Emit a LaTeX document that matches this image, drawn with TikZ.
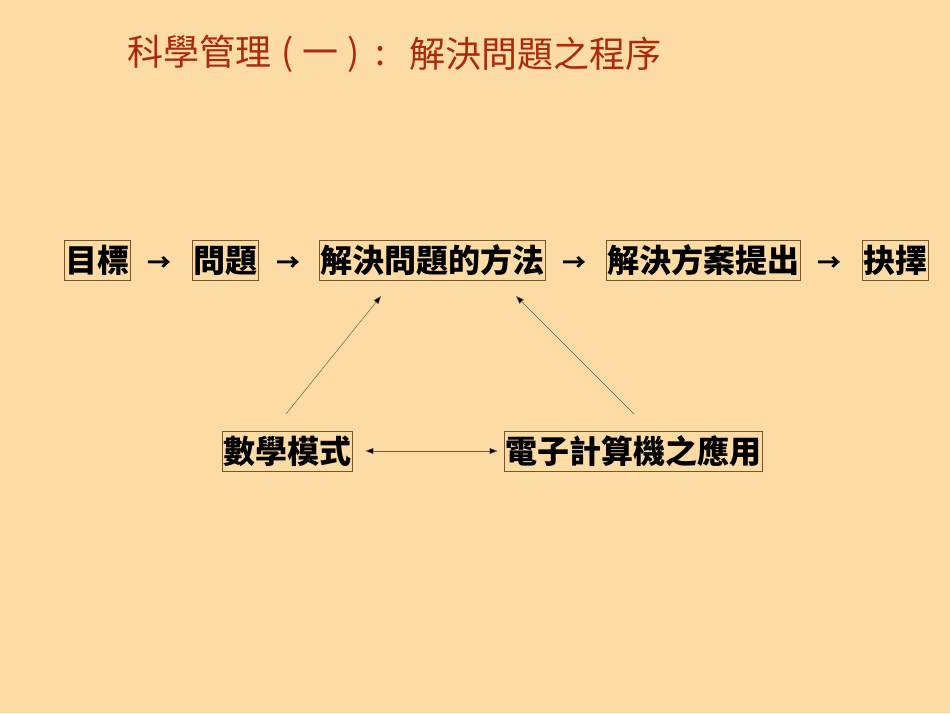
\documentclass[tikz,border=0pt]{standalone}
\usepackage{fontspec}
\newfontfamily\cjk{Noto Sans CJK TC}
\usetikzlibrary{arrows.meta}
\definecolor{bg}{RGB}{253,219,165}
\definecolor{titlec}{RGB}{172,42,12}
\definecolor{boxc}{RGB}{120,85,40}
\definecolor{linec}{RGB}{110,95,75}
\tikzset{
  box/.style={draw=boxc, line width=0.8pt, inner sep=1pt, font=\cjk\bfseries\fontsize{32}{32}\selectfont, text height=31pt, text depth=7pt},
  arr/.style={font=\cjk\bfseries\fontsize{24}{24}\selectfont},
  tip/.style={-{Triangle[length=8pt,width=6pt,fill=black]}},
  conn/.style={draw=linec, line width=0.5pt, tip},
}
\begin{document}
\begin{tikzpicture}[x=1pt,y=-1pt]
\fill[bg] (0,0) rectangle (950,713);
\useasboundingbox (0,0) rectangle (950,713);
\node[anchor=west, text=titlec, font=\cjk\fontsize{36}{36}\selectfont, inner sep=0pt] (title) at (127,54) {科學管理\hspace{10pt}(\hspace{9pt}一\hspace{9pt})\hspace{16pt}:};
\node[anchor=west, text=titlec, font=\cjk\fontsize{36}{36}\selectfont, inner sep=0pt] (title2) at (409,54) {解決問題之程序};
\node[box] (goal) at (97,260) {目標};
\node[box] (prob) at (225,260) {問題};
\node[box] (meth) at (432,260) {解決問題的方法};
\node[box] (sol) at (703,260) {解決方案提出};
\node[box] (cho) at (895,260) {抉擇};
\node[arr] (a1) at (159,264) {→};
\node[arr] (a2) at (288,264) {→};
\node[arr] (a3) at (574,264) {→};
\node[arr] (a4) at (829,264) {→};
\node[box] (math) at (287,451) {數學模式};
\node[box] (comp) at (633,451) {電子計算機之應用};
\coordinate (m1) at (286,414);
\coordinate (c1) at (634,414);
\coordinate (t1) at (381,296);
\coordinate (t2) at (516,296);
\draw[conn] (m1) -- (t1);
\draw[conn] (c1) -- (t2);
\draw[draw=linec, line width=0.5pt, {Triangle[length=8pt,width=6pt,fill=black]}-{Triangle[length=8pt,width=6pt,fill=black]}] ([xshift=13pt]math.east) -- ([xshift=-6pt]comp.west);
\end{tikzpicture}
\end{document}
